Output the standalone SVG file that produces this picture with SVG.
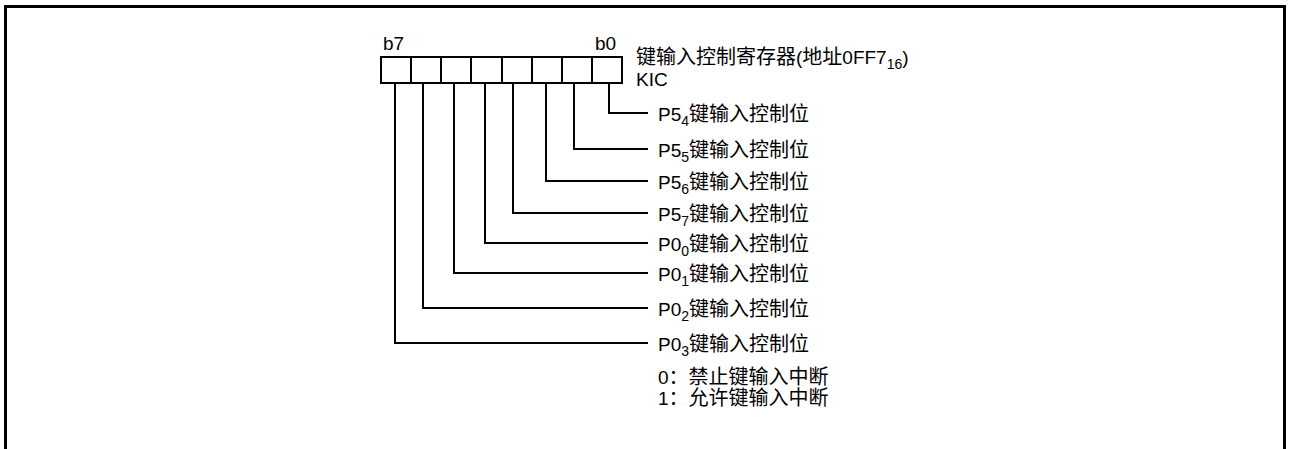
<svg xmlns="http://www.w3.org/2000/svg" width="1289" height="449" viewBox="0 0 1289 449">
<style>
.t{font-family:"Liberation Sans","Noto Sans CJK SC",sans-serif;font-size:19px;fill:#000}
.c{font-size:20px}
.s{font-size:14px}
.ln{fill:none;stroke:#000;stroke-width:2}
.fr{fill:none;stroke:#000;stroke-width:3}
</style>
<rect width="1289" height="449" fill="#fff"/>
<polyline class="fr" points="5.5,449 5.5,6.5 1284.5,6.5 1284.5,449"/>
<g id="register">
<rect class="ln" x="381" y="57" width="241" height="26"/>
<path class="ln" d="M411,57V83M441,57V83M471,57V83M502,57V83M532,57V83M562,57V83M592,57V83"/>
<text class="t" x="383" y="50">b7</text>
<text class="t" x="595" y="50">b0</text>
<text class="t" x="636" y="64"><tspan class="c">键输入控制寄存器</tspan>(<tspan class="c">地址</tspan>0FF7<tspan class="s" dy="5">16</tspan><tspan dy="-5">)</tspan></text>
<text class="t" x="636" y="86">KIC</text>
</g>
<g id="connectors">
<path class="ln" d="M609,83V113H648"/>
<path class="ln" d="M574,83V149H648"/>
<path class="ln" d="M546,83V181H648"/>
<path class="ln" d="M513,83V213H648"/>
<path class="ln" d="M485,83V243H648"/>
<path class="ln" d="M454,83V273H648"/>
<path class="ln" d="M423,83V308H648"/>
<path class="ln" d="M395,83V343H648"/>
</g>
<g id="bit0"><text class="t" x="658" y="121">P5<tspan class="s" dy="5">4</tspan><tspan class="c" dy="-5">键输入控制位</tspan></text></g>
<g id="bit1"><text class="t" x="658" y="157">P5<tspan class="s" dy="5">5</tspan><tspan class="c" dy="-5">键输入控制位</tspan></text></g>
<g id="bit2"><text class="t" x="658" y="189">P5<tspan class="s" dy="5">6</tspan><tspan class="c" dy="-5">键输入控制位</tspan></text></g>
<g id="bit3"><text class="t" x="658" y="221">P5<tspan class="s" dy="5">7</tspan><tspan class="c" dy="-5">键输入控制位</tspan></text></g>
<g id="bit4"><text class="t" x="658" y="251">P0<tspan class="s" dy="5">0</tspan><tspan class="c" dy="-5">键输入控制位</tspan></text></g>
<g id="bit5"><text class="t" x="658" y="281">P0<tspan class="s" dy="5">1</tspan><tspan class="c" dy="-5">键输入控制位</tspan></text></g>
<g id="bit6"><text class="t" x="658" y="316">P0<tspan class="s" dy="5">2</tspan><tspan class="c" dy="-5">键输入控制位</tspan></text></g>
<g id="bit7"><text class="t" x="658" y="351">P0<tspan class="s" dy="5">3</tspan><tspan class="c" dy="-5">键输入控制位</tspan></text></g>
<g id="legend">
<text class="t" x="658" y="384">0<tspan class="c">：禁止键输入中断</tspan></text>
<text class="t" x="658" y="405">1<tspan class="c">：允许键输入中断</tspan></text>
</g>
</svg>
